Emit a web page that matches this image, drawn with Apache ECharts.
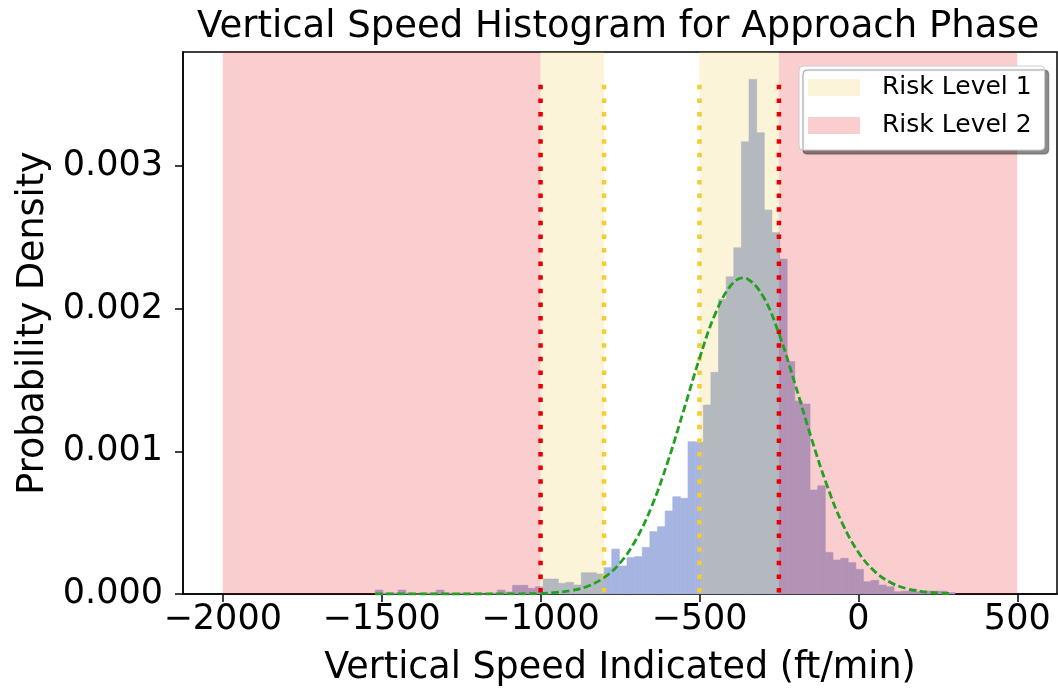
<!DOCTYPE html>
<html><head><meta charset="utf-8">
<script src="https://cdn.jsdelivr.net/npm/echarts@6/dist/echarts.min.js"></script>
<style>html,body{margin:0;padding:0;background:#fff}#c{width:1058px;height:693px}</style>
</head><body><div id="c"></div>
<script>
// Histogram bins (ft/min) and probability density per bin
const binStart = -1520;
const binWidth = 24;
const density = [
  0.000028, 0.000007, 0.000007, 0.000028, 0.000007, 0.000000, 0.000007, 0.000007,
  0.000028, 0.000007, 0.000000, 0.000007, 0.000007, 0.000007, 0.000000, 0.000007,
  0.000028, 0.000014, 0.000061, 0.000061, 0.000040, 0.000051, 0.000105, 0.000105,
  0.000075, 0.000082, 0.000063, 0.000149, 0.000149, 0.000140, 0.000185, 0.000315,
  0.000196, 0.000255, 0.000262, 0.000327, 0.000437, 0.000472, 0.000582, 0.000682,
  0.000671, 0.001068, 0.001065, 0.001325, 0.001554, 0.002066, 0.002224, 0.002427,
  0.003170, 0.003608, 0.003234, 0.002692, 0.002535, 0.002348, 0.001630, 0.001353,
  0.001332, 0.000729, 0.000759, 0.000292, 0.000238, 0.000250, 0.000220, 0.000173,
  0.000086, 0.000096, 0.000063, 0.000051, 0.000016, 0.000020, 0.000035, 0.000016,
  0.000020, 0.000020, 0.000020, 0.000010
];
// Fitted normal curve
const curveX = [-1520, -1400, -1300, -1200, -1100, -1000, -950, -900, -850, -800, -750, -700, -650, -600, -550, -500, -450, -400, -362, -350, -300, -250, -200, -150, -100, -50, 0, 50, 100, 150, 200, 250, 285];
const curveY = [0, 0, 0, 0.0000001, 0.0000005, 0.0000041, 0.0000107, 0.0000254, 0.000056, 0.000115, 0.000217, 0.000380, 0.000616, 0.000925, 0.001285, 0.001651, 0.001966, 0.002167, 0.002216, 0.002211, 0.002088, 0.001826, 0.001478, 0.001108, 0.000769, 0.000493, 0.000293, 0.000161, 0.000082, 0.000039, 0.000017, 0.0000069, 0.0000035];
const xTicks = [-2000, -1500, -1000, -500, 0, 500];
const yTicks = [0, 0.001, 0.002, 0.003];
const risk1Spans = [[-1000, -800], [-500, -250]];
const risk2Spans = [[-2000, -1000], [-250, 500]];
const redLines = [-1000, -250];
const yellowLines = [-800, -500];
const lineTop = 0.00357;

const FONT = 'DejaVu Sans';
const histData = density.map((d, i) => [binStart + i * binWidth, binStart + (i + 1) * binWidth, d]);
const curveData = curveX.map((x, i) => [x, curveY[i]]);

function spanItem(params, api) {
  const cs = params.coordSys;
  const a = api.coord([api.value(0), 0]);
  const b = api.coord([api.value(1), 0]);
  return { type: 'rect', shape: { x: a[0], y: cs.y, width: b[0] - a[0], height: cs.height },
           style: { fill: api.visual('color') } };
}
function vline(x, color) {
  return {
    type: 'line', silent: true, z: 4, symbol: 'none', animation: false,
    data: [[x, lineTop], [x, 0]],
    lineStyle: { color: color, width: 4.5, type: [4.5, 9.1], cap: 'butt' }
  };
}

const chart = echarts.init(document.getElementById('c'), null, { renderer: 'canvas' });
chart.setOption({
  animation: false,
  backgroundColor: '#fff',
  title: {
    text: 'Vertical Speed Histogram for Approach Phase',
    left: 192, top: 4,
    textStyle: { fontFamily: FONT, fontSize: 37, fontWeight: 'normal', color: '#000' }
  },
  legend: {
    data: ['Risk Level 1', 'Risk Level 2'],
    orient: 'vertical', left: 799, top: 66,
    icon: 'rect', itemWidth: 52, itemHeight: 17, itemGap: 13,
    padding: [9, 13, 12, 9],
    backgroundColor: '#fff', borderColor: '#cccccc', borderWidth: 1, borderRadius: 4,
    shadowColor: 'rgba(0,0,0,0.45)', shadowBlur: 1, shadowOffsetX: 4, shadowOffsetY: 4,
    textStyle: { fontFamily: FONT, fontSize: 25, color: '#000', lineHeight: 25, padding: [0, 0, 0, 17] },
    selectedMode: false
  },
  grid: { left: 183, right: 1, top: 52, bottom: 99, show: true, borderColor: '#000', borderWidth: 1.5, backgroundColor: 'transparent' },
  xAxis: {
    type: 'value', min: -2125, max: 625,
    name: 'Vertical Speed Indicated (ft/min)', nameLocation: 'middle', nameGap: 56,
    nameTextStyle: { fontFamily: FONT, fontSize: 36.5, color: '#000' },
    axisLine: { show: true, onZero: false, lineStyle: { color: '#000', width: 1.5 } },
    axisTick: { show: true, length: 8, lineStyle: { color: '#000', width: 1.5 }, customValues: xTicks },
    axisLabel: { fontFamily: FONT, fontSize: 35, color: '#000', margin: 8, customValues: xTicks,
                 formatter: v => String(v).replace('-', '\u2212') },
    splitLine: { show: false }
  },
  yAxis: {
    type: 'value', min: 0, max: 0.0038,
    name: 'Probability Density', nameLocation: 'middle', nameGap: 130,
    nameTextStyle: { fontFamily: FONT, fontSize: 36.5, color: '#000' },
    axisLine: { show: true, onZero: false, lineStyle: { color: '#000', width: 1.5 } },
    axisTick: { show: true, length: 8, lineStyle: { color: '#000', width: 1.5 }, customValues: yTicks },
    axisLabel: { fontFamily: FONT, fontSize: 35, color: '#000', margin: 20, customValues: yTicks,
                 formatter: v => v.toFixed(3) },
    splitLine: { show: false }
  },
  series: [
    {
      type: 'custom', name: 'hist', silent: true, z: 1,
      data: histData,
      encode: { x: [0, 1], y: 2 },
      renderItem: function (params, api) {
        const p0 = api.coord([api.value(0), 0]);
        const p1 = api.coord([api.value(1), api.value(2)]);
        return { type: 'rect', shape: { x: p0[0], y: p1[1], width: p1[0] - p0[0], height: p0[1] - p1[1] },
                 style: { fill: '#a5b4e0', stroke: '#a5b4e0', lineWidth: 0.6 } };
      }
    },
    {
      type: 'custom', name: 'Risk Level 1', silent: true, z: 2,
      itemStyle: { color: 'rgba(240,200,60,0.2)' },
      data: risk1Spans, encode: { x: [0, 1] }, renderItem: spanItem
    },
    {
      type: 'custom', name: 'Risk Level 2', silent: true, z: 2,
      itemStyle: { color: 'rgba(232,8,8,0.2)' },
      data: risk2Spans, encode: { x: [0, 1] }, renderItem: spanItem
    },
    vline(redLines[0], '#e80000'),
    vline(redLines[1], '#e80000'),
    vline(yellowLines[0], '#f4cc35'),
    vline(yellowLines[1], '#f4cc35'),
    {
      type: 'line', name: 'normal', silent: true, z: 5, symbol: 'none', smooth: 0.4,
      data: curveData,
      lineStyle: { color: '#22a022', width: 2.8, type: [7.5, 3.5] }
    }
  ]
});
</script></body></html>
